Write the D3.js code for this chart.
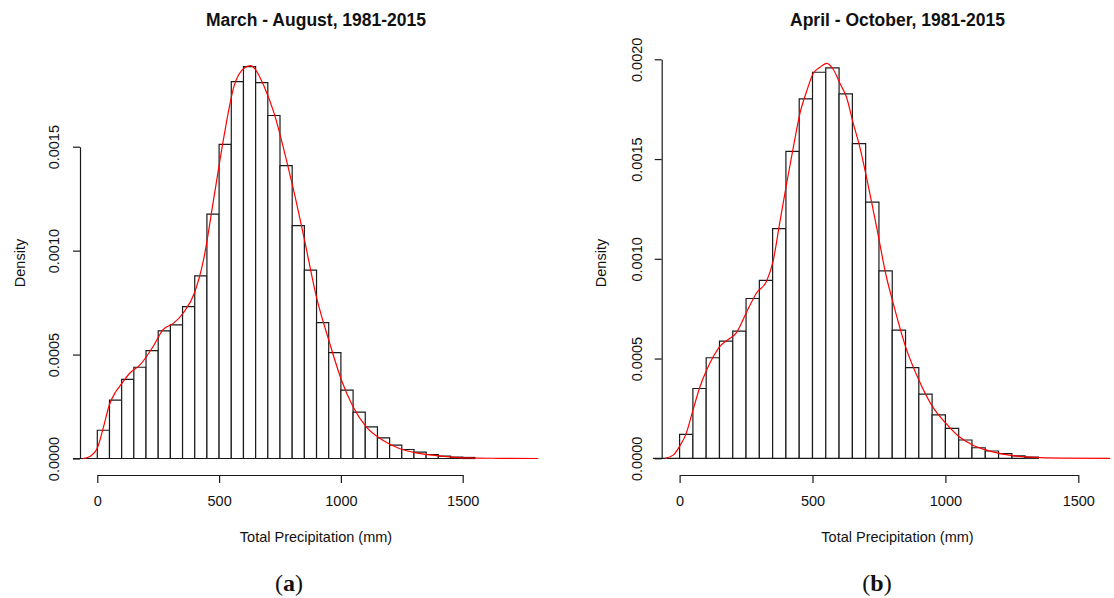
<!DOCTYPE html>
<html lang="en">
<head>
    <meta charset="UTF-8">
    <title>Precipitation Histograms</title>
    <script src="https://d3js.org/d3.v7.min.js"></script>
    <style>
        body { margin: 0; background: #fff; }
        text { font-family: "Liberation Sans", Arial, sans-serif; fill: #111; }
    </style>
</head>
<body>
<div id="chart"></div>

<script>
    // ---- data ----
    // histogram breaks (mm) and bar densities, panel (a)
    var breaksA = [-100, -50, 0, 50, 100, 150, 200, 250, 300, 350, 400, 450, 500, 550, 600, 650, 700,
                   750, 800, 850, 900, 950, 1000, 1050, 1100, 1150, 1200, 1250, 1300, 1350, 1400, 1450, 1500, 1550];
    var densA = [0, 0, 0.000136, 0.000281, 0.000381, 0.000439, 0.000519, 0.000614, 0.000643, 0.000731,
                 0.000879, 0.001176, 0.001511, 0.001813, 0.001885, 0.001808, 0.001650, 0.001409, 0.001120,
                 0.000906, 0.000654, 0.000509, 0.000329, 0.000223, 0.000152, 0.0000995, 0.0000641,
                 0.0000434, 0.0000304, 0.0000193, 0.0000111, 0.0000063, 0.000005];
    // kernel density curve, panel (a)
    var kdeAx = [-60, -30, 0, 25, 50, 75, 100, 133, 175, 230, 270, 312, 353, 400, 437, 478, 520, 561, 605, 630,
                 650, 685, 726, 767, 808, 849, 899, 954, 1002, 1050, 1104, 1172, 1240, 1309, 1377, 1445, 1513, 1650, 1810];
    var kdeAy = [0, 0.00001, 0.00005, 0.00015, 0.00026, 0.00032, 0.00036, 0.00041, 0.00045, 0.00054,
                 0.00062, 0.00065, 0.00070, 0.00080, 0.00096, 0.00125, 0.00155, 0.00179, 0.00188, 0.00189,
                 0.00187, 0.00179, 0.00166, 0.00148, 0.00128, 0.00106, 0.00078, 0.000555, 0.000378, 0.000249,
                 0.000152, 0.000088, 0.000048, 0.000027, 0.000016, 0.000008, 0.000003, 0.000001, 0];

    // panel (b)
    var breaksB = [-100, -50, 0, 50, 100, 150, 200, 250, 300, 350, 400, 450, 500, 550, 600, 650, 700,
                   750, 800, 850, 900, 950, 1000, 1050, 1100, 1150, 1200, 1250, 1300, 1350];
    var densB = [0, 0, 0.000120, 0.000350, 0.000504, 0.000587, 0.000637, 0.000801, 0.000892, 0.001151,
                 0.001538, 0.001802, 0.001935, 0.001957, 0.001827, 0.001577, 0.001284, 0.000939, 0.000642,
                 0.000455, 0.000322, 0.000218, 0.000150, 0.0000917, 0.000053, 0.0000367, 0.000023,
                 0.0000117, 0.000006];
    var kdeBx = [-54, -23, 0, 25, 50, 77, 101, 127, 151, 177, 214, 251, 290, 328, 352, 378, 403, 428, 453, 478,
                 503, 528, 553, 578, 603, 628, 653, 678, 703, 741, 778, 801, 850, 901, 951, 1002, 1052, 1102,
                 1152, 1202, 1253, 1303, 1358, 1443, 1620];
    var kdeBy = [0, 0.000017, 0.00006, 0.000125, 0.00024, 0.00036, 0.00044, 0.00051, 0.00056, 0.00059,
                 0.00063, 0.00073, 0.00083, 0.00089, 0.00099, 0.00119, 0.00138, 0.00156, 0.00173, 0.00184,
                 0.00193, 0.00196, 0.00198, 0.00195, 0.00188, 0.00181, 0.00168, 0.00156, 0.00141, 0.00116,
                 0.00091, 0.00079, 0.00056, 0.00039, 0.00026, 0.000175, 0.000108, 0.000067, 0.000042, 0.000025,
                 0.000013, 0.000007, 0.000003, 0.000001, 0];

    var xTicks = [0, 500, 1000, 1500];
    var yTicksA = [0, 0.0005, 0.0010, 0.0015];
    var yTicksB = [0, 0.0005, 0.0010, 0.0015, 0.0020];

    var titles = ["March - August, 1981-2015", "April - October, 1981-2015"];
    var captions = ["a", "b"];

    var svg = d3.select("#chart").append("svg")
        .attr("width", 1114)
        .attr("height", 598);

    // one panel = histogram + density curve + R style axes
    function drawPanel(p) {
        var g = svg.append("g");

        var x = d3.scaleLinear().domain([0, 1500]).range(p.xRange);
        var y = d3.scaleLinear().domain([0, p.yTicks[p.yTicks.length - 1]]).range(p.yRange);

        // bars (paths so the empty bins still show as a flat line)
        var bins = p.dens.map(function(d, i) { return {x0: p.breaks[i], x1: p.breaks[i + 1], d: d}; });
        g.selectAll(".bar")
            .data(bins)
            .enter().append("path")
            .attr("class", "bar")
            .attr("d", function(b) {
                return "M" + x(b.x0) + "," + y(0) + "V" + y(b.d) + "H" + x(b.x1) + "V" + y(0) + "Z";
            })
            .attr("fill", "#fff")
            .attr("stroke", "#1a1a1a")
            .attr("stroke-width", 1.2);

        // density curve
        var pts = p.kx.map(function(v, i) { return [v, p.ky[i]]; });
        var line = d3.line()
            .x(function(d) { return x(d[0]); })
            .y(function(d) { return y(d[1]); })
            .curve(d3.curveMonotoneX);
        g.append("path")
            .datum(pts)
            .attr("d", line)
            .attr("fill", "none")
            .attr("stroke", "#ff0000")
            .attr("stroke-width", 1.2);

        // x axis, offset below the bars
        var xAxis = g.append("g")
            .attr("transform", "translate(0," + p.xAxisY + ")")
            .call(d3.axisBottom(x).tickValues(xTicks).tickSize(8).tickSizeOuter(0)
                .tickPadding(13).tickFormat(d3.format("d")));
        xAxis.selectAll("text").style("font-size", "14.5px").attr("fill", "#111");
        xAxis.selectAll("path, line").attr("stroke", "#1a1a1a").attr("stroke-width", 1.2);

        // y axis with labels turned sideways
        var yAxis = g.append("g")
            .attr("transform", "translate(" + p.yAxisX + ",0)")
            .call(d3.axisLeft(y).tickValues(p.yTicks).tickSize(7).tickSizeOuter(0).tickFormat(d3.format(".4f")));
        yAxis.selectAll("path, line").attr("stroke", "#1a1a1a").attr("stroke-width", 1.2);
        yAxis.selectAll("text")
            .attr("transform", "rotate(-90)")
            .attr("x", 0)
            .attr("y", -(p.yAxisX - p.yLabX))
            .attr("dy", null)
            .attr("text-anchor", "middle")
            .attr("fill", "#111")
            .style("font-size", "14.5px");

        // titles and labels
        g.append("text")
            .attr("x", p.centerX)
            .attr("y", 26)
            .attr("text-anchor", "middle")
            .style("font-size", "17.5px")
            .style("font-weight", "bold")
            .text(p.title);

        g.append("text")
            .attr("x", p.centerX)
            .attr("y", 542)
            .attr("text-anchor", "middle")
            .style("font-size", "14.5px")
            .text("Total Precipitation (mm)");

        g.append("text")
            .attr("transform", "translate(" + p.densX + ",263) rotate(-90)")
            .attr("text-anchor", "middle")
            .style("font-size", "14.5px")
            .text("Density");

        var cap = g.append("text")
            .attr("x", p.capX)
            .attr("y", 591)
            .attr("text-anchor", "middle")
            .style("font-family", "'Liberation Serif', 'Times New Roman', serif")
            .style("font-size", "24px");
        cap.append("tspan").text("(");
        cap.append("tspan").style("font-weight", "bold").text(p.caption);
        cap.append("tspan").text(")");
    }

    drawPanel({
        breaks: breaksA, dens: densA, kx: kdeAx, ky: kdeAy, yTicks: yTicksA,
        xRange: [97.3, 462.7], yRange: [458.5, 146.7],
        xAxisY: 475, yAxisX: 80, yLabX: 58.5, densX: 25,
        centerX: 316, capX: 289, title: titles[0], caption: captions[0]
    });

    drawPanel({
        breaks: breaksB, dens: densB, kx: kdeBx, ky: kdeBy, yTicks: yTicksB,
        xRange: [679.6, 1078.3], yRange: [458.3, 59.3],
        xAxisY: 475, yAxisX: 661.7, yLabX: 642, densX: 606,
        centerX: 897.5, capX: 877, title: titles[1], caption: captions[1]
    });
</script>
</body>
</html>
